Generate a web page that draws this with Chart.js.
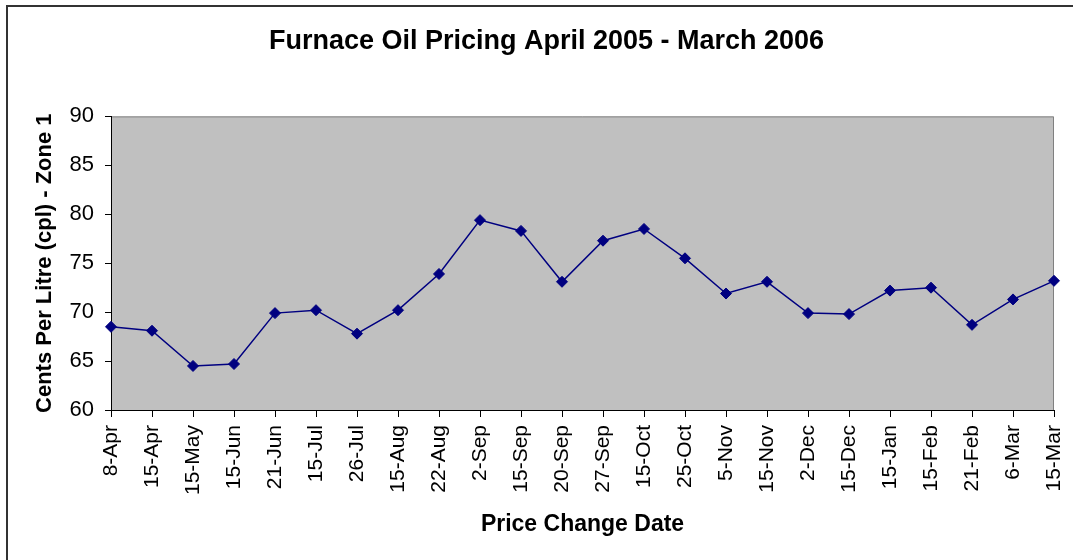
<!DOCTYPE html>
<html lang="en">
<head>
<meta charset="UTF-8">
<title>Furnace Oil Pricing</title>
<script src="https://cdn.jsdelivr.net/npm/chart.js"></script>
<style>
  html, body {
    margin: 0;
    padding: 0;
    background: #fff;
    overflow: hidden;
  }
  .moldura {
    position: absolute;
    left: 6px;
    top: 5px;
    width: 1200px;
    height: 700px;
    border-left: 2px solid #333;
    border-top: 2px solid #333;
  }
  .caixa {
    position: absolute;
    left: 0;
    top: 0;
    width: 1073px;
    height: 560px;
  }
</style>
</head>
<body>
<div class="moldura"></div>
<div class="caixa">
  <canvas id="grafico" width="1073" height="560"></canvas>
</div>

<script>
const datas = ["8-Apr", "15-Apr", "15-May", "15-Jun", "21-Jun", "15-Jul", "26-Jul", "15-Aug",
  "22-Aug", "2-Sep", "15-Sep", "20-Sep", "27-Sep", "15-Oct", "25-Oct", "5-Nov",
  "15-Nov", "2-Dec", "15-Dec", "15-Jan", "15-Feb", "21-Feb", "6-Mar", "15-Mar"];
const precos = [68.5, 68.1, 64.5, 64.7, 69.9, 70.2, 67.8, 70.2,
  73.9, 79.4, 78.3, 73.1, 77.3, 78.5, 75.5, 71.9,
  73.1, 69.9, 69.8, 72.2, 72.5, 68.7, 71.3, 73.2];
const eixoY = { min: 60, max: 90, passo: 5 };

const fonte = 'Arial, "Liberation Sans", sans-serif';

// fundo cinza da area de plotagem, com borda cinza em cima e a direita
const fundoPlot = {
  id: 'fundoPlot',
  afterLayout(chart) {
    // o titulo do original fica centrado um pouco mais a direita
    if (chart.titleBlock) {
      chart.titleBlock.left = 20;
      chart.titleBlock.right = 1073;
    }
  },
  beforeDraw(chart) {
    const { ctx, chartArea: a } = chart;
    ctx.save();
    ctx.fillStyle = '#C0C0C0';
    ctx.fillRect(a.left, a.top, a.right - a.left, a.bottom - a.top);
    ctx.strokeStyle = '#808080';
    ctx.lineWidth = 1;
    ctx.beginPath();
    ctx.moveTo(a.left, a.top + 0.5);
    ctx.lineTo(a.right - 0.5, a.top + 0.5);
    ctx.lineTo(a.right - 0.5, a.bottom);
    ctx.stroke();
    ctx.restore();
  }
};

const ctx = document.getElementById('grafico').getContext('2d');
new Chart(ctx, {
  type: 'line',
  data: {
    labels: datas,
    datasets: [{
      label: 'Cents Per Litre',
      data: precos,
      borderColor: '#000080',
      backgroundColor: '#000080',
      borderWidth: 1.5,
      pointStyle: 'rectRot',
      pointRadius: 5.5,
      pointBorderWidth: 1,
      fill: false,
      tension: 0
    }]
  },
  options: {
    responsive: false,
    animation: false,
    layout: { padding: { left: 0, right: 19, top: 0, bottom: 0 } },
    plugins: {
      legend: { display: false },
      tooltip: { enabled: false },
      title: {
        display: true,
        text: 'Furnace Oil Pricing April 2005 - March 2006',
        color: '#000',
        font: { family: fonte, size: 27, weight: 'bold' },
        padding: { top: 25, bottom: 59 }
      }
    },
    scales: {
      x: {
        offset: false,
        grid: { drawOnChartArea: false, drawTicks: true, tickLength: 7, color: '#000' },
        border: { color: '#000', width: 1 },
        ticks: {
          color: '#000',
          minRotation: 90,
          maxRotation: 90,
          autoSkip: false,
          padding: 8,
          font: { family: fonte, size: 21 }
        },
        title: {
          display: true,
          text: 'Price Change Date',
          color: '#000',
          font: { family: fonte, size: 23, weight: 'bold' },
          padding: { top: 0, bottom: 22 }
        },
        afterFit(scale) {
          scale.height = 150;
          scale.paddingRight = 0;
          scale.paddingLeft = 0;
        }
      },
      y: {
        min: eixoY.min,
        max: eixoY.max,
        grid: { drawOnChartArea: false, drawTicks: true, tickLength: 6, color: '#000' },
        border: { color: '#000', width: 1 },
        ticks: {
          stepSize: eixoY.passo,
          color: '#000',
          padding: 11,
          font: { family: fonte, size: 22 }
        },
        title: {
          display: true,
          text: 'Cents Per Litre (cpl) - Zone 1',
          color: '#000',
          font: { family: fonte, size: 22, weight: 'bold' },
          padding: { top: 32, bottom: 0 }
        },
        afterFit(scale) { scale.width = 111; }
      }
    }
  },
  plugins: [fundoPlot]
});
</script>
</body>
</html>
